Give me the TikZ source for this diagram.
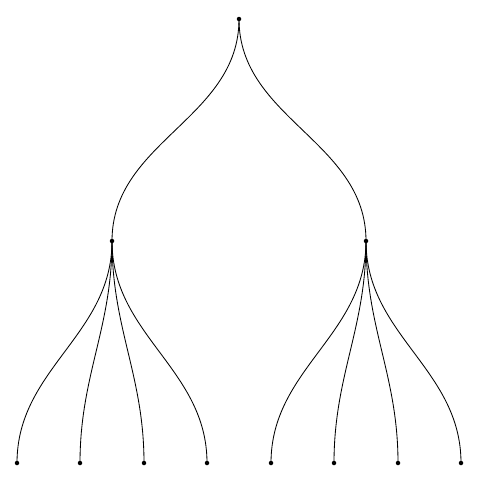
\documentclass[tikz,border=0pt]{standalone}
\usepackage{tikz}

\begin{document}
\begin{tikzpicture}[x=0.025cm,y=-0.025cm,
    dot/.style={circle,fill,inner sep=0pt,minimum size=3.2pt},
    branch/.style={line width=0.6pt,out=-90,in=90}]
          \useasboundingbox (0,0) rectangle (480,480);
          %\draw[very thin,lightgray] (0,0) grid[step=40] (480,480);
          \node[dot] (root) at (239,19) {};
          \node[dot] (l) at (112,241) {};
          \node[dot] (r) at (366,241) {};
          \draw[branch] (root.center) to (l.center);
          \draw[branch] (root.center) to (r.center);
          \foreach \i/\x in {1/17,2/80,3/144,4/207}{
            \node[dot] (ll\i) at (\x,463) {};
            \draw[branch] (l.center) to (ll\i.center);
          }
          \foreach \i/\x in {1/271,2/334,3/398,4/461}{
            \node[dot] (rl\i) at (\x,463) {};
            \draw[branch] (r.center) to (rl\i.center);
          }
        \end{tikzpicture}
\end{document}
